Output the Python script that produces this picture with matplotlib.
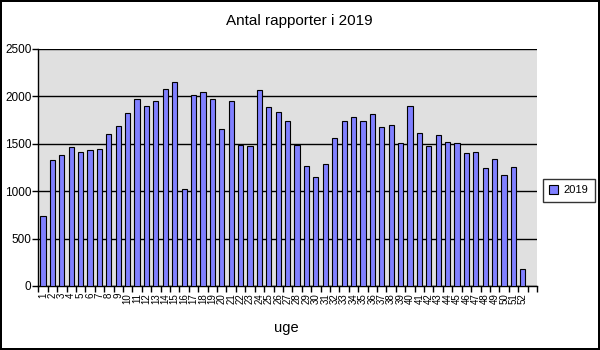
import matplotlib
matplotlib.use("Agg")
import matplotlib.pyplot as plt
import numpy as np

# Weekly report counts for 2019
weeks = [str(w) for w in range(1, 53)]
reports_2019 = [738, 1326, 1378, 1463, 1410, 1435, 1442, 1600, 1684, 1822,
                1969, 1895, 1948, 2075, 2149, 1020, 2011, 2043, 1969, 1653,
                1948, 1484, 1474, 2064, 1885, 1835, 1741, 1484, 1263, 1150,
                1284, 1558, 1741, 1779, 1741, 1811, 1674, 1695, 1505, 1895,
                1611, 1474, 1590, 1516, 1505, 1400, 1410, 1242, 1340, 1168,
                1252, 176]
y_ticks = [0, 500, 1000, 1500, 2000, 2500]

plt.rcParams['font.family'] = ['Liberation Sans', 'DejaVu Sans']

fig = plt.figure(figsize=(6, 3.5), dpi=100)
fig.patch.set_facecolor('white')
fig.patch.set_edgecolor('black')
fig.patch.set_linewidth(1.5)

ax = fig.add_axes([0.0638, 0.1829, 0.8312, 0.6771])
ax.set_facecolor('#e0e0e0')

x = np.arange(1, len(reports_2019) + 1)
ax.bar(x, reports_2019, width=0.55, color='#8080ff', edgecolor='black',
       linewidth=0.8, label='2019', zorder=3)

ax.set_xlim(0.5, len(reports_2019) + 1.5)
ax.set_ylim(0, 2500)

ax.set_yticks(y_ticks)
ax.set_yticklabels([str(v) for v in y_ticks], fontsize=8.5)
ax.yaxis.grid(True, color='black', linewidth=1, zorder=1)
ax.set_axisbelow(True)

ax.set_xticks(x)
ax.set_xticklabels(weeks, rotation=90, fontsize=7, va='top', ha='center')
ax.set_xticks(np.arange(0.5, len(reports_2019) + 2.5, 1.0), minor=True)
ax.tick_params(axis='x', which='major', length=0, pad=5)
ax.tick_params(axis='x', which='minor', length=4, width=1, direction='out')
ax.tick_params(axis='y', length=4, width=1, direction='out', pad=1)

for side in ('top', 'right'):
    ax.spines[side].set_visible(False)
for side in ('left', 'bottom'):
    ax.spines[side].set_linewidth(1)
    ax.spines[side].set_color('black')

fig.text(0.4983, 0.94, 'Antal rapporter i 2019', fontsize=11, ha='center', va='center')
fig.text(0.478, 0.063, 'uge', fontsize=10.5, ha='center', va='center')

leg = fig.legend(loc='center', bbox_to_anchor=(0.948, 0.456), fontsize=8,
                 frameon=True, fancybox=False, edgecolor='black',
                 handlelength=0.8, handleheight=0.8, handletextpad=0.5,
                 borderpad=0.6)
leg.get_frame().set_linewidth(1)

fig.savefig('out.png', dpi=100)
